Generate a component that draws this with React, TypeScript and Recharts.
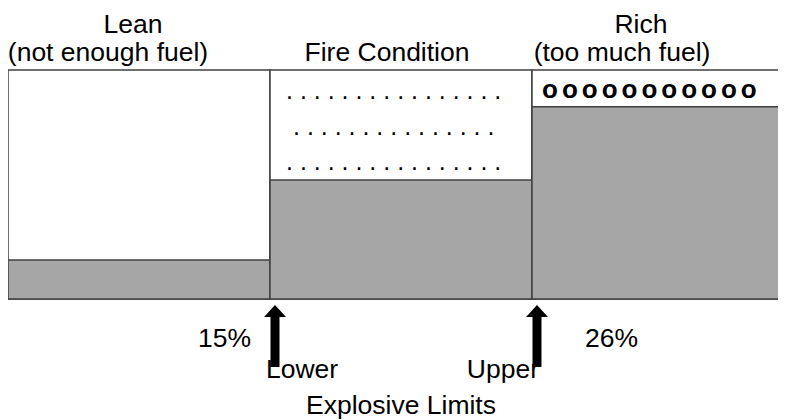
import React from "react";
import { BarChart, Bar, XAxis, YAxis } from "recharts";

// fuel/air zones, left to right
const zones = ["lean", "fire", "rich"];
const zoneTitles = ["Lean", "", "Rich"];
const zoneSubtitles = ["(not enough fuel)", "Fire Condition", "(too much fuel)"];
// relative amount of fuel in each zone (share of box height)
const fuelLevel = [17, 52, 84];

// explosive limits sit on the left edge of the fire and rich zones
const limitPercents = ["15%", "26%"];
const limitNames = ["Lower", "Upper"];
const limitsTitle = "Explosive Limits";

// marks drawn in the air space of each zone
const dotRows = [16, 15, 16];
const richMarks = 11;

const data = zones.map((z, i) => ({ zone: z, fuel: fuelLevel[i] }));

const FONT = "Arial, 'Liberation Sans', sans-serif";
const FS = 26.5;
const W = 786;
const H = 412;
const TOP = 62;
const BOTTOM = 121;
const plotBottom = H - BOTTOM;

// label offsets per zone: [title dx, subtitle dx]
const titleShift = [
  [-6, -31],
  [0, -14],
  [-22, -41],
];

function ZoneTick(props: any) {
  const { x, payload } = props;
  const i = payload.index;
  const [d1, d2] = titleShift[i];
  return (
    <g fontFamily={FONT} fontSize={FS} fill="#000">
      {zoneTitles[i] && (
        <text x={x + d1} y={TOP - 37} textAnchor="middle" fill="#000">
          {zoneTitles[i]}
        </text>
      )}
      <text x={x + d2} y={TOP - 9} textAnchor="middle" fill="#000">
        {zoneSubtitles[i]}
      </text>
    </g>
  );
}

function ZoneMarks(props: any) {
  const { x, width, index } = props;
  const parts: React.ReactNode[] = [];

  if (index === 1) {
    const rowY = [TOP + 28.5, TOP + 64.5, TOP + 100];
    dotRows.forEach((n, r) => {
      parts.push(
        <text
          key={"d" + r}
          x={x + (n === 15 ? 23 : 16)}
          y={rowY[r]}
          fontFamily={FONT}
          fontSize={25}
          fill="#000"
        >
          {Array(n).fill(".").join(" ")}
        </text>
      );
    });
    parts.push(
      <text
        key="t"
        x={x + width / 2}
        y={H - 6}
        textAnchor="middle"
        fontFamily={FONT}
        fontSize={FS}
        fill="#000"
      >
        {limitsTitle}
      </text>
    );
  }

  if (index === 2) {
    parts.push(
      <text
        key="o"
        x={x + 10}
        y={TOP + 28}
        fontFamily={FONT}
        fontSize={26}
        fontWeight="bold"
        letterSpacing={4}
        fill="#000"
      >
        {Array(richMarks).fill("o").join("")}
      </text>
    );
  }

  if (index === 1 || index === 2) {
    const li = index - 1;
    const cx = x + 5;
    const ty = plotBottom + 6;
    parts.push(
      <g key="arrow">
        <polygon
          points={`${cx - 11},${ty + 12} ${cx},${ty} ${cx + 11},${ty + 12}`}
          fill="#000"
        />
        <rect x={cx - 4.5} y={ty + 11} width={9} height={51} fill="#000" />
        <text
          x={li === 0 ? cx - 24 : cx + 48}
          y={plotBottom + 48}
          textAnchor={li === 0 ? "end" : "start"}
          fontFamily={FONT}
          fontSize={FS}
          fill="#000"
        >
          {limitPercents[li]}
        </text>
        <text
          x={li === 0 ? cx - 9 : cx + 2}
          y={plotBottom + 79}
          textAnchor={li === 0 ? "start" : "end"}
          fontFamily={FONT}
          fontSize={FS}
          fill="#000"
        >
          {limitNames[li]}
        </text>
      </g>
    );
  }

  return <g>{parts}</g>;
}

export default function App() {
  return (
    <div style={{ width: 778, height: H, overflow: "hidden", background: "#fff" }}>
      <BarChart
        width={W}
        height={H}
        data={data}
        barCategoryGap={0}
        barGap={0}
        margin={{ top: 0, right: 0, bottom: BOTTOM, left: 0 }}
      >
        <XAxis
          dataKey="zone"
          orientation="top"
          height={TOP}
          axisLine={false}
          tickLine={false}
          tick={<ZoneTick />}
          interval={0}
        />
        <YAxis hide domain={[0, 100]} />
        <Bar
          dataKey="fuel"
          fill="#a6a6a6"
          stroke="#404040"
          strokeWidth={1.5}
          background={{ fill: "#fff", stroke: "#404040", strokeWidth: 1.5 }}
          label={<ZoneMarks />}
          isAnimationActive={false}
        />
      </BarChart>
    </div>
  );
}
